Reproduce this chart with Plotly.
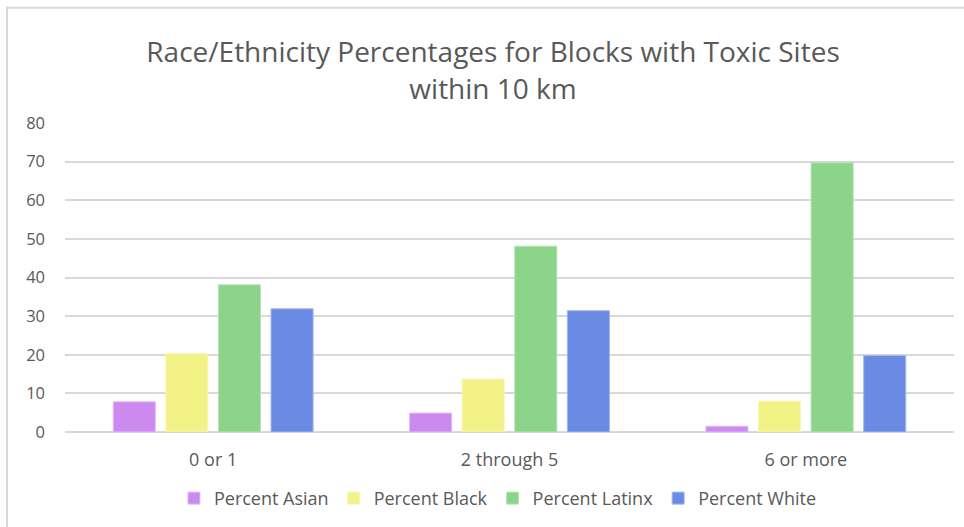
import plotly.graph_objects as go

categories = ["0 or 1", "2 through 5", "6 or more"]
series_names = ["Percent Asian", "Percent Black", "Percent Latinx", "Percent White"]
asian = [7.8, 4.9, 1.5]
black = [20.3, 13.7, 8.0]
latinx = [38.1, 48.1, 69.7]
white = [31.9, 31.4, 19.8]
y_ticks = [0, 10, 20, 30, 40, 50, 60, 70, 80]

colors = ["#CC8AF0", "#F2F287", "#8DD48B", "#6B8AE3"]
edges = ["#E2BAF7", "#F7F7B5", "#B5E3B3", "#A3B7EE"]
values = [asian, black, latinx, white]

fig = go.Figure()
for name, vals, c, e in zip(series_names, values, colors, edges):
    fig.add_trace(go.Bar(x=categories, y=vals, name=name,
                         marker=dict(color=c, line=dict(color=e, width=1))))

txt = "#595959"
fam = "Open Sans, sans-serif"
fig.update_layout(
    width=964, height=527,
    margin=dict(l=65, r=10, t=123, b=93),
    paper_bgcolor="white", plot_bgcolor="white",
    barmode="group", bargap=0.29, bargroupgap=0.20,
    font=dict(family=fam, color=txt, size=16),
    title=dict(text="Race/Ethnicity Percentages for Blocks with Toxic Sites<br>within 10 km",
               x=0.4815, xref="paper", xanchor="center",
               y=0.882, yref="container", yanchor="middle",
               font=dict(size=28, color=txt, family=fam)),
    xaxis=dict(showgrid=False, showline=False, zeroline=False, ticks="",
               ticklabelstandoff=15, tickfont=dict(size=18, color=txt, family=fam)),
    yaxis=dict(range=[0, 80], tickvals=y_ticks, showgrid=True, gridcolor="#D9D9D9",
               gridwidth=1.5, zeroline=True, zerolinecolor="#D9D9D9", zerolinewidth=1.5,
               showline=False, ticks="", ticklabelstandoff=19,
               tickfont=dict(size=16.5, color=txt, family=fam)),
    legend=dict(orientation="h", x=0.487, xanchor="center", y=-0.215, yanchor="middle",
                font=dict(size=18, color=txt, family=fam), itemwidth=30, traceorder="normal"),
    shapes=[
        dict(type="line", xref="paper", yref="paper", x0=-0.066, x1=1.02, y0=1.373, y1=1.373,
             line=dict(color="#D9D9D9", width=2)),
        dict(type="line", xref="paper", yref="paper", x0=-0.0652, x1=-0.0652, y0=-0.32, y1=1.376,
             line=dict(color="#D9D9D9", width=2)),
    ],
)

fig.write_html("out.html")
